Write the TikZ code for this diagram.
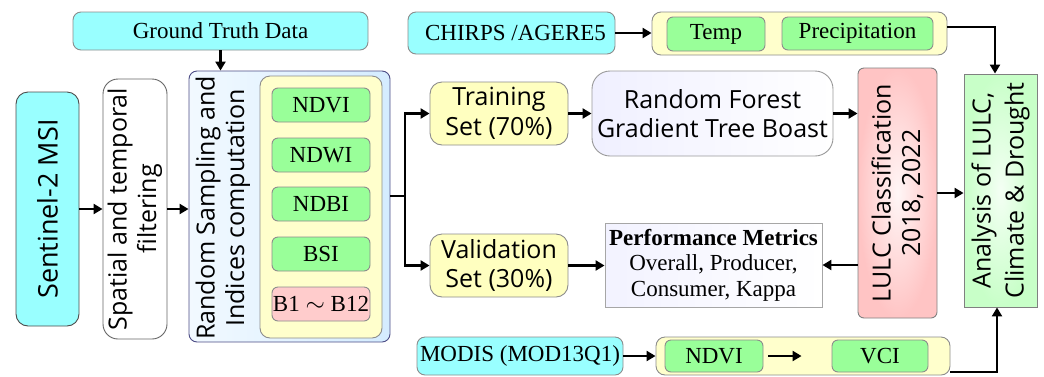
\documentclass[tikz,border=0pt]{standalone}
\usepackage{fontspec}
\setmainfont{Liberation Serif}
\newfontfamily\sansf{Open Sans}
\usetikzlibrary{arrows.meta}
\definecolor{cyanbox}{HTML}{99FFFF}
\definecolor{greenbox}{HTML}{99FF99}
\definecolor{yelbox}{HTML}{FFFFCC}
\definecolor{trainy}{HTML}{FFFFC0}
\definecolor{pinkbox}{HTML}{FFCCCC}
\definecolor{anagreen}{HTML}{C8FFC8}
\definecolor{bord}{HTML}{8C8C8C}
\definecolor{lblue}{HTML}{D4ECFF}
\definecolor{lpink}{HTML}{FFC4C4}
\tikzset{
  box/.style={draw=bord, line width=0.9pt, inner sep=0pt, align=center},
  cyanb/.style={box, fill=cyanbox, rounded corners=8pt},
  greenb/.style={box, fill=greenbox, rounded corners=6pt},
  yelb/.style={box, fill=yelbox, rounded corners=9pt},
  serift/.style={font=\fontsize{23}{26}\selectfont},
  sanst/.style={font=\sansf\fontsize{25}{29.5}\selectfont, align=center, inner sep=0pt},
  vtext/.style={sanst, rotate=90},
  arr/.style={-{Triangle[length=9pt,width=10pt]}, line width=2.8pt},
  ln/.style={line width=2.8pt}
}
\begin{document}
\begin{tikzpicture}[x=1pt,y=-1pt]
\useasboundingbox (0,0) rectangle (1044,376);

% ground truth
\node[cyanb, serift, minimum width=295pt, minimum height=38pt] (gt) at (220.5,31) {Ground Truth Data};

% Sentinel
\node[box, draw=black!70, fill=cyanbox, rounded corners=12pt, minimum width=63pt, minimum height=234pt] (sent) at (47.5,209) {};
\node[vtext, font=\sansf\fontsize{27}{30}\selectfont] (sentt) at (sent.center) {Sentinel-2 MSI};

% filtering
\node[box, draw=black!60, fill=white, rounded corners=15pt, minimum width=64pt, minimum height=260pt] (filt) at (135,209) {};
\node[vtext] (filtt) at (filt.center) {Spatial and temporal\\filtering};

% random sampling
\node[box, draw=black!45!blue!40!gray, left color=white!70!lblue, right color=lblue, rounded corners=8pt, minimum width=201pt, minimum height=271pt] (rs) at (289.5,206.5) {};
\node[vtext] (rst) at (223,208) {Random Sampling and\\Indices computation};
\node[yelb, rounded corners=10pt, minimum width=122pt, minimum height=262pt] (inner) at (321,207) {};
\node[greenb, serift, minimum width=98pt, minimum height=34pt] (ndvi) at (321,105) {NDVI};
\node[greenb, serift, minimum width=98pt, minimum height=34pt] (ndwi) at (321,155) {NDWI};
\node[greenb, serift, minimum width=98pt, minimum height=34pt] (ndbi) at (321,204) {NDBI};
\node[greenb, serift, minimum width=98pt, minimum height=34pt] (bsi) at (321,254) {BSI};
\node[box, fill=pinkbox, rounded corners=6pt, serift, minimum width=98pt, minimum height=34pt] (bands) at (321,304) {B1 $\sim$ B12};

% training / validation
\node[box, fill=trainy, rounded corners=12pt, sanst, minimum width=138pt, minimum height=63pt] (train) at (499,113.5) {Training\\Set (70\%)};
\node[box, fill=trainy, rounded corners=12pt, sanst, minimum width=138pt, minimum height=63pt] (valid) at (499,265.5) {Validation\\Set (30\%)};

% RF
\node[box, draw=black!40, left color=blue!6, right color=white, rounded corners=18pt, sanst, minimum width=241pt, minimum height=85pt] (rf) at (712.5,113.5) {Random Forest\\Gradient Tree Boast};

% Performance
\node[box, draw=black!35, left color=blue!5, right color=white, minimum width=217pt, minimum height=84pt, font=\fontsize{23}{25.5}\selectfont] (perf) at (713.5,265) {\textbf{Performance Metrics}\\Overall, Producer,\\Consumer, Kappa};

% LULC
\node[box, draw=black!50, inner color=white!85!lpink, outer color=lpink, rounded corners=6pt, minimum width=79pt, minimum height=250pt] (lulc) at (897.5,193) {};
\node[vtext] (lulct) at (lulc.center) {LULC Classification\\2018, 2022};

% Analysis
\node[box, draw=black!50, inner color=white!80!anagreen, outer color=anagreen, minimum width=73pt, minimum height=233pt] (ana) at (1000.5,190.5) {};
\node[vtext, font=\sansf\fontsize{25}{33}\selectfont] (anat) at (ana.center) {Analysis of LULC,\\Climate \& Drought};

% CHIRPS row
\node[cyanb, serift, minimum width=207pt, minimum height=42pt] (chirps) at (511.5,33) {\hspace*{8pt}CHIRPS /AGERE5};
\node[yelb, minimum width=295pt, minimum height=43pt] (clim) at (799.5,33.5) {};
\node[greenb, serift, minimum width=98pt, minimum height=34pt] (temp) at (716,34) {Temp};
\node[greenb, serift, minimum width=151pt, minimum height=33pt] (prec) at (857.5,33.5) {Precipitation};

% MODIS row
\node[cyanb, serift, minimum width=206pt, minimum height=38pt] (modis) at (520,356) {MODIS (MOD13Q1)};
\node[yelb, minimum width=294pt, minimum height=38pt] (modb) at (803,356) {};
\node[greenb, serift, minimum width=98pt, minimum height=32pt] (ndvi2) at (714,356) {NDVI};
\node[greenb, serift, minimum width=96pt, minimum height=32pt] (vci) at (880,356) {VCI};

% helper coordinates
\coordinate (br) at (405,196);
\coordinate (cx) at (995,27);
\coordinate (mx) at (997,372);

% connectors
\draw[arr] (gt.south) -- (gt.south |- rs.north);
\draw[arr] (sent.east) -- (filt.west);
\draw[arr] (filt.east) -- (filt.east -| rs.west);
\draw[ln] (rs.east |- br) -- (br);
\draw[arr] (br) |- (train.west);
\draw[arr] (br) |- (valid.west);
\draw[arr] (train.east) -- (train.east -| rf.west);
\draw[arr] (valid.east) -- (valid.east -| perf.west);
\draw[arr] (rf.east) -- (rf.east -| lulc.west);
\draw[arr] (lulc.west |- perf.east) -- (perf.east);
\draw[arr] (lulc.east) -- (lulc.east -| ana.west);
\draw[arr] (chirps.east) -- (chirps.east -| clim.west);
\draw[arr] (clim.east |- cx) -| (cx |- ana.north);
\draw[arr] (modis.east) -- (modis.east -| modb.west);
\draw[arr, line width=2.4pt] ([xshift=5pt]ndvi2.east) -- ([xshift=-30pt]vci.west);
\draw[arr] (modb.east |- mx) -| (mx |- ana.south);
\end{tikzpicture}
\end{document}
